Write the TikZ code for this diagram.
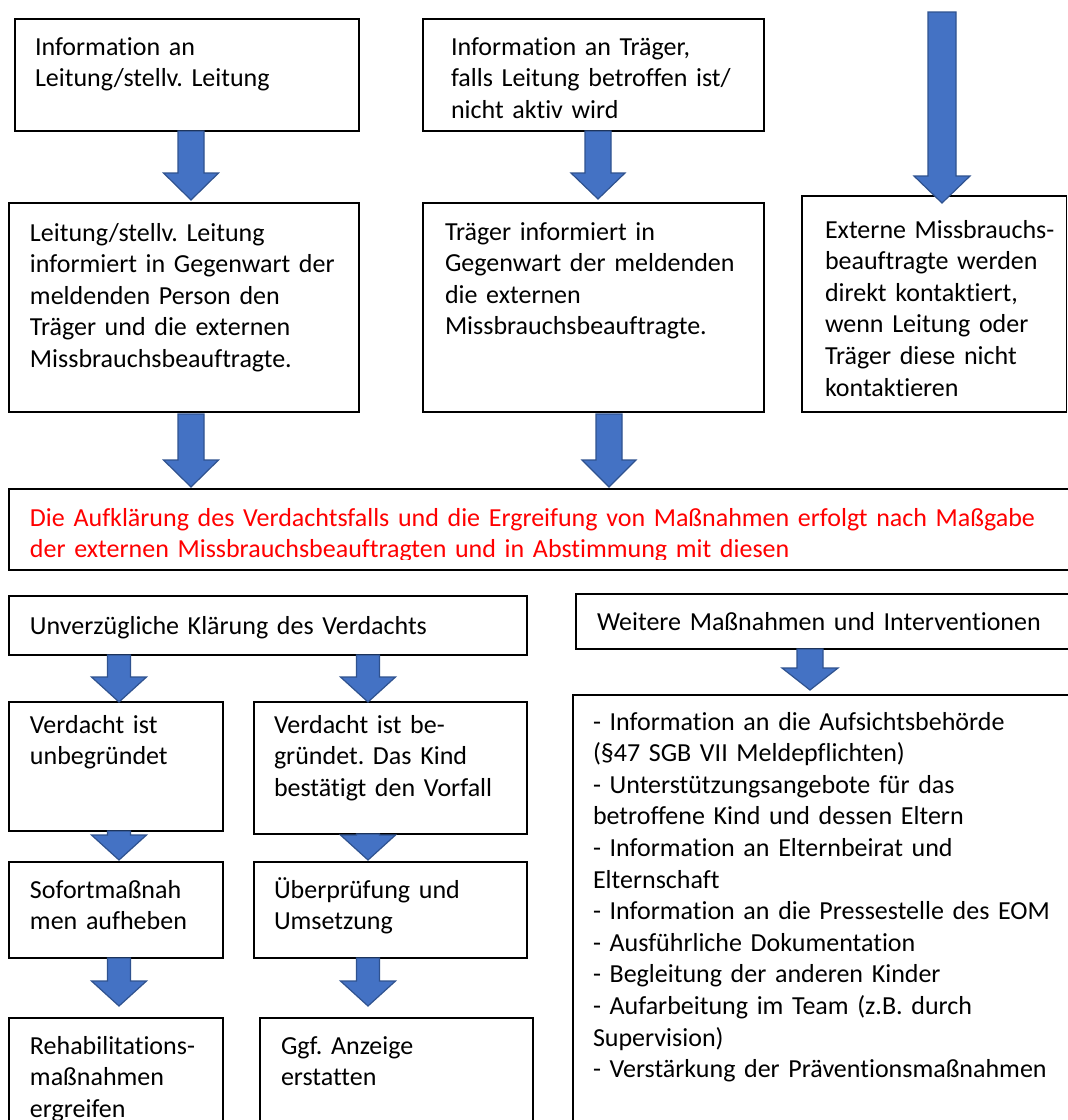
\documentclass[tikz,border=0pt]{standalone}
\usepackage{fontspec}
\setmainfont{Carlito}[Ligatures={NoCommon}]
\usetikzlibrary{calc}
\definecolor{arrowfill}{HTML}{4472C4}
\definecolor{arrowline}{HTML}{2F528F}
\definecolor{alertred}{HTML}{FF0000}
\tikzset{
  box/.style={draw=black, line width=1.2pt, anchor=north west, inner sep=0pt, outer sep=0pt},
  txt/.style={anchor=base west, inner sep=0pt, outer sep=0pt, text width=1100pt, align=left,
              font=\fontsize{26}{31.6}\selectfont\frenchspacing},
  blockarrow/.style={fill=arrowfill, draw=arrowline, line width=1.2pt, line join=miter}
}
% box: name, x1, y1, x2, y2 (pixel coordinates, y downwards)
\newcommand{\mybox}[5]{\node[box, minimum width={(#4)-(#2)}, minimum height={(#5)-(#3)}] (#1) at (#2,#3) {};}
% block arrow: top point, tip point, x centre, shaft half width, head half width, head length
\newcommand{\barrow}[6]{%
  \draw[blockarrow] let \p1=#1, \p2=#2 in
    (#3-#4,\y1) -- (#3+#4,\y1) -- (#3+#4,\y2+#6pt) -- (#3+#5,\y2+#6pt) -- (#3,\y2)
    -- (#3-#5,\y2+#6pt) -- (#3-#4,\y2+#6pt) -- cycle;}
\begin{document}
\begin{tikzpicture}[x=1pt,y=-1pt]
\clip (0,0) rectangle (1068,1120);
\fill[white] (0,0) rectangle (1068,1120);

% ---- boxes ----
\mybox{A}{15}{19}{359}{131}
\mybox{C}{423}{19}{764}{131}
\coordinate (Etop) at (942,12);

\mybox{B}{9}{203}{359}{412}
\mybox{D}{423}{203}{764}{412}
\mybox{E}{802}{196}{1066.5}{412}

\mybox{F}{9}{489}{1080}{570}

\mybox{U}{9}{596}{527}{655}
\mybox{W}{576}{594}{1080}{649}

\mybox{V1}{9}{702}{223}{831}
\mybox{V2}{254}{702}{527}{834}
\mybox{Big}{573}{695}{1080}{1135}

\mybox{S1}{9}{862}{223}{958}
\mybox{S2}{254}{862}{527}{958}

\mybox{R1}{9}{1018}{223}{1135}
\mybox{R2}{260}{1018}{533}{1135}

% ---- texts ----
\node[txt] (tA) at (35,55) {Information an\\Leitung/stellv. Leitung};
\node[txt] (tC) at (451,55) {Information an Träger,\\falls Leitung betroffen ist/\\nicht aktiv wird};
\node[txt] (tB) at (30,241) {Leitung/stellv. Leitung\\informiert in Gegenwart der\\meldenden Person den\\Träger und die externen\\Missbrauchsbeauftragte.};
\node[txt] (tD) at (445,240) {Träger informiert in\\Gegenwart der meldenden\\die externen\\Missbrauchsbeauftragte.};
\node[txt] (tE) at (825,238) {Externe Missbrauchs-\\beauftragte werden\\direkt kontaktiert,\\wenn Leitung oder\\Träger diese nicht\\kontaktieren};

\begin{scope}
  \clip (9,489) rectangle (1068,559.5);
  \node[txt, text=alertred] (tF) at (30,526) {Die Aufklärung des Verdachtsfalls und die Ergreifung von Maßnahmen erfolgt nach Maßgabe\\der externen Missbrauchsbeauftragten und in Abstimmung mit diesen};
\end{scope}

\node[txt] (tU) at (30,634) {Unverzügliche Klärung des Verdachts};
\node[txt] (tW) at (597,630) {Weitere Maßnahmen und Interventionen};

\node[txt] (tV1) at (30,733) {Verdacht ist\\unbegründet};
\node[txt] (tV2) at (274,733) {Verdacht ist be-\\gründet. Das Kind\\bestätigt den Vorfall};

\node[txt] (tBig) at (593,730) {- Information an die Aufsichtsbehörde\\(§47 SGB VII Meldepflichten)\\- Unterstützungsangebote für das\\betroffene Kind und dessen Eltern\\- Information an Elternbeirat und\\Elternschaft\\- Information an die Pressestelle des EOM\\- Ausführliche Dokumentation\\- Begleitung der anderen Kinder\\- Aufarbeitung im Team (z.B. durch\\Supervision)\\- Verstärkung der Präventionsmaßnahmen};

\node[txt] (tS1) at (30,898) {Sofortmaßnah\\men aufheben};
\node[txt] (tS2) at (274,898) {Überprüfung und\\Umsetzung};

\node[txt] (tR1) at (30,1054) {Rehabilitations-\\maßnahmen\\ergreifen};
\node[txt] (tR2) at (281,1054) {Ggf. Anzeige\\erstatten};

% ---- block arrows ----
\barrow{(A.south)}{([yshift=3pt]B.north)}{191}{13}{27.5}{27}
\barrow{(C.south)}{([yshift=4pt]D.north)}{598}{13}{27}{26}
\barrow{(Etop)}{([yshift=-7pt]E.north)}{942}{14}{28}{27}

\barrow{([yshift=-2pt]B.south)}{([yshift=2pt]F.north)}{191}{13}{27.5}{27}
\barrow{([yshift=-2pt]D.south)}{([yshift=2pt]F.north)}{609}{13}{27}{27}

\barrow{(U.south)}{(V1.north)}{119}{11.5}{27.5}{25}
\barrow{(U.south)}{(V2.north)}{368}{11.5}{27.5}{25}
\barrow{(W.south)}{([yshift=5pt]Big.north)}{810}{13}{28}{22}

\barrow{(V1.south)}{([yshift=2pt]S1.north)}{119}{11.5}{27.5}{25}
\barrow{(V2.south)}{([yshift=2pt]S2.north)}{368}{11.5}{27.5}{25}

\barrow{(S1.south)}{([yshift=12pt]R1.north)}{119}{11.5}{27.5}{25}
\barrow{(S2.south)}{([yshift=12pt]R2.north)}{368}{11.5}{27.5}{25}
\end{tikzpicture}
\end{document}
